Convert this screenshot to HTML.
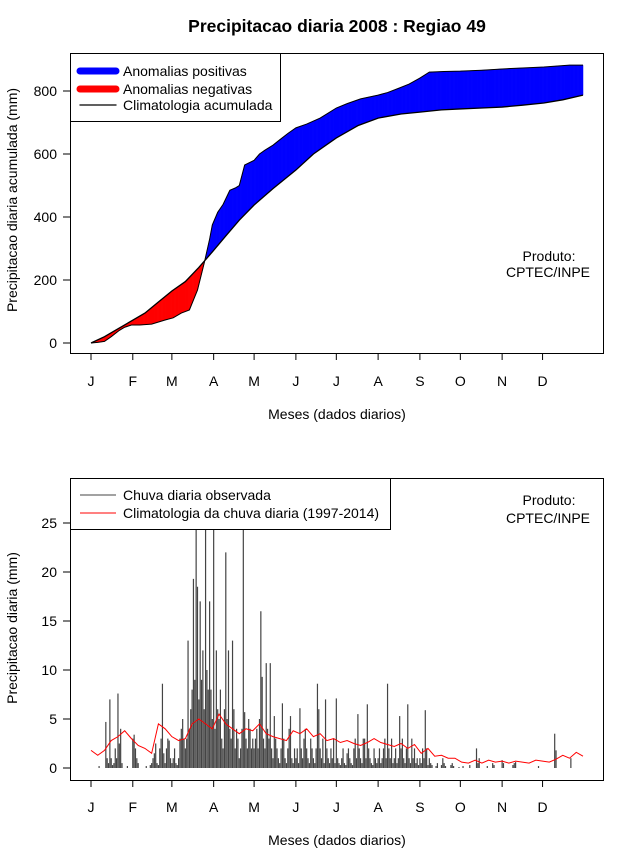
<!DOCTYPE html>
<html><head><meta charset="utf-8"><style>
body{margin:0;background:#fff}
svg{display:block;font-family:"Liberation Sans",sans-serif}
</style></head><body>
<svg id="c" width="640" height="850" xmlns="http://www.w3.org/2000/svg"></svg>
<script>
// ---- data ----
const months = ["J","F","M","A","M","J","J","A","S","O","N","D"];
const monthStartDays = [0,31,60,91,121,152,182,213,244,274,305,335];
const topYTicks = [0,200,400,600,800];
const botYTicks = [0,5,10,15,20,25];
const climCumDays = [0,10,20,30,40,50,60,70,80,90,100,110,121,135,152,165,182,198,213,230,244,260,274,290,305,320,336,350,365];
const climCumVals = [0,20,45,70,95,130,165,195,240,289,340,390,438,490,549,600,651,690,714,727,733,740,743,746,749,755,762,772,787];
const obsCumDays = [0,5,10,15,21,25,30,36,45,55,61,67,73,79,84,88,90,94,98,103,107,110,114,121,125,129,135,140,146,152,160,170,176,182,190,200,213,220,229,236,244,251,262,274,290,305,320,336,355,365];
const obsCumVals = [0,2,5,20,40,50,57,57,60,73,80,95,105,168,254,330,375,415,440,485,492,500,565,580,600,612,628,645,665,683,695,714,730,746,760,775,787,795,810,822,841,860,862,863,866,870,873,876,882,882];
const obsJan = [0,0,0,0,0,0,0.2,0,0,0,0,4.7,1,0.5,7,1,0.3,0.5,2,1,7.6,2.5,4,0.5,0,0,0,0.2,0,0,0];
const obsFeb = [3,3.4,2,1,0.5,0,0,0,0,0,0.2,0,0,0.3,0.5,1,1.5,2.5,0.5,0.3,2,3,8.6,1.5,0.5,2,3,2.8,1];
const obsMar = [0.5,1,2,0.5,0.3,1,3,4,5,3,2,3,13,4,6,8,19.3,9,30,18.5,7,17,9,12,6,30,10,8,17,8,5];
const obsApr = [30,4,12,6,5,8,3,2,6,22,5,12,4,3,13,6,2,4,3,1,2,4,30,5.7,3,2,5,4,2,3];
const obsMay = [2,3,4,2,5,16,9.3,3,2,10.7,4,3,10.7,2,1,5.3,3,2,1,0.5,2,6.6,3,1,0.5,2,4,5.3,1,0.5,2];
const obsJun = [1,2,0.5,6.1,2,1,3,4,2,1,0.5,3,2,1,0.5,2,8.6,6,2,1,3,0.5,7,2,1,0.5,2,1,3,0.5];
const obsJul = [7.1,1,0.5,0.3,1,2,0.5,0.3,1.5,2,1,0.5,0.3,2,3,1,5.5,2,1,0.5,3,3,1,6.5,2,1,0.5,0.3,2,1,0.5];
const obsAug = [1,2,0.5,1,2,3,1,8.6,2,1,3,0.5,1,2,0.5,1,5.3,2,3,1,0.5,2,6.5,1,0.5,3,1,2,0.5,1,0.3];
const obsSep = [1,0.5,2,1,5.9,2,0.3,1,0.5,0.3,0,0,0.2,0.5,0,0,0.3,1,0.5,0.2,0,0,0,0.3,0.5,0.2,0,0,0,0.1];
const obsOct = [0,0,0.2,0,0,0,0,0.3,0,0,0,0,2,0.5,1,0,0,0,0,0,0.2,0,0,0,0.5,0.3,0,0,0,0,0];
const obsNov = [0.8,0.5,0,0,0,0,0,0,0.3,0.5,0.6,0,0,0,0,0,0,0,0,0,0,0,0,0,0,0,0,0.2,0,0];
const obsDec = [0,0,0,0,0,0,0,0,0,3.5,1.8,0,0,0,0,0,0,0,0,0,0,1,0,0,0,0,0,0,0,0,0];
const climDailyDays = [0,5,10,15,20,25,30,35,40,45,50,55,60,65,70,75,80,85,90,95,100,105,110,115,120,125,130,135,140,145,150,155,160,165,170,175,180,185,190,195,200,205,210,215,220,225,230,235,240,245,250,255,260,265,270,275,280,285,290,295,300,305,310,315,320,325,330,335,340,345,350,355,360,365];
const climDailyVals = [1.8,1.3,1.8,2.8,3.2,3.8,3.0,2.3,2.0,1.5,4.5,4.0,3.2,2.8,3.0,4.5,5.0,4.5,4.0,5.5,4.5,4.0,3.5,4.0,3.8,4.5,3.5,3.2,3.0,2.8,3.8,3.5,4.0,3.2,3.5,2.8,3.0,2.6,2.8,2.5,2.3,2.6,3.0,2.6,2.4,2.2,2.5,2.0,2.4,1.5,2.0,1.2,1.3,1.0,1.0,0.6,0.5,0.8,0.5,0.8,0.6,0.7,0.5,0.7,0.6,0.5,0.8,0.7,0.6,0.9,1.3,1.0,1.6,1.2];
const obsDaily = [].concat(obsJan,obsFeb,obsMar,obsApr,obsMay,obsJun,obsJul,obsAug,obsSep,obsOct,obsNov,obsDec);

// ---- drawing ----
const NS="http://www.w3.org/2000/svg";
const svg=document.getElementById('c');
function mk(tag,attrs,parent){const e=document.createElementNS(NS,tag);for(const k in attrs)e.setAttribute(k,attrs[k]);(parent||svg).appendChild(e);return e;}
const xDay=d=>91+d*(583-91)/365;
const yTop=v=>343-v*0.315;
const yBot=v=>768-v*9.8;
function interp(ds,vs,d){for(let i=1;i<ds.length;i++){if(d<=ds[i]){const t=(d-ds[i-1])/(ds[i]-ds[i-1]);return vs[i-1]+t*(vs[i]-vs[i-1]);}}return vs[vs.length-1];}
const FS=14;

let t=mk('text',{x:337,y:32,'text-anchor':'middle','font-size':17.5,'font-weight':'bold'});
t.textContent='Precipitacao diaria 2008 : Regiao 49';



function axes(yTop0,yBot0,yfn,ticks,yLabel,yLabelY,xLabelY,tickLabY,pre){
  for(let i=0;i<months.length;i++){
    const x=xDay(monthStartDays[i]);
    const l=mk('line',{x1:x,x2:x,y1:yBot0,y2:yBot0+7,stroke:'#000'});
    
    
    const tx=mk('text',{x:x,y:tickLabY,'text-anchor':'middle','font-size':FS});
    tx.textContent=months[i];
    
    
  }
  for(const v of ticks){
    const y=yfn(v);
    const l=mk('line',{x1:63,x2:70,y1:y,y2:y,stroke:'#000'});
    
    
    const tx=mk('text',{x:57,y:y+5,'text-anchor':'end','font-size':FS});
    tx.textContent=v;
    
    
  }
  const yl=mk('text',{x:0,y:0,'text-anchor':'middle','font-size':FS,transform:`translate(17,${yLabelY}) rotate(-90)`});
  yl.textContent=yLabel;
  
  
  const xl=mk('text',{x:337,y:xLabelY,'text-anchor':'middle','font-size':FS});
  xl.textContent='Meses (dados diarios)';
  
  
}

// top panel
const g1=mk('g',{});


for(let d=0;d<365;d++){
  const o0=interp(obsCumDays,obsCumVals,d),o1=interp(obsCumDays,obsCumVals,d+1);
  const c0=interp(climCumDays,climCumVals,d),c1=interp(climCumDays,climCumVals,d+1);
  const pos=(o0+o1)>=(c0+c1);
  const p=mk('polygon',{points:`${xDay(d)},${yTop(o0)} ${xDay(d+1)},${yTop(o1)} ${xDay(d+1)},${yTop(c1)} ${xDay(d)},${yTop(c0)}`,fill:pos?'#0000ff':'#ff0000',stroke:pos?'#0000ff':'#ff0000','stroke-width':0.5},g1);
  
  
}
const lineO=mk('polyline',{points:obsCumDays.map((d,i)=>xDay(d)+','+yTop(obsCumVals[i])).join(' '),fill:'none',stroke:'#000','stroke-width':1},g1);


const lineC=mk('polyline',{points:climCumDays.map((d,i)=>xDay(d)+','+yTop(climCumVals[i])).join(' '),fill:'none',stroke:'#000','stroke-width':1.3},g1);


const box1=mk('rect',{x:70.5,y:53.5,width:533,height:300,fill:'none',stroke:'#000'});


axes(53,353,yTop,topYTicks,'Precipitacao diaria acumulada (mm)',200,419,386,'top-');

const lg1=mk('g',{});


mk('rect',{x:70.5,y:53.5,width:210,height:68,fill:'#fff',stroke:'#000'},lg1);
const le=[['#0000ff',7,'Anomalias positivas',71],['#ff0000',7,'Anomalias negativas',89],['#000',1.3,'Climatologia acumulada',105]];
for(const [c,w,txt,y] of le){
  const l=mk('line',{x1:80,x2:116,y1:y,y2:y,stroke:c,'stroke-width':w,'stroke-linecap':'round'},lg1);
  
  
  const tx=mk('text',{x:123,y:y+5,'font-size':FS},lg1);
  tx.textContent=txt;
  
  
}
let p1=mk('text',{x:549,y:261,'text-anchor':'middle','font-size':FS});p1.textContent='Produto:';


let p2=mk('text',{x:548,y:277,'text-anchor':'middle','font-size':FS});p2.textContent='CPTEC/INPE';



// bottom panel
const cp=mk('clipPath',{id:'cb'});
mk('rect',{x:70,y:478,width:533,height:302},cp);
const g2=mk('g',{'clip-path':'url(#cb)'});


for(let d=0;d<obsDaily.length;d++){
  const x=xDay(d);
  const b=mk('line',{x1:x,x2:x,y1:yBot(0),y2:yBot(obsDaily[d]),stroke:'#444','stroke-width':1.2},g2);
  
  
}
const rl=mk('polyline',{points:climDailyDays.map((d,i)=>xDay(d)+','+yBot(climDailyVals[i])).join(' '),fill:'none',stroke:'#ff0000','stroke-width':1},g2);


const box2=mk('rect',{x:70.5,y:478.5,width:533,height:302,fill:'none',stroke:'#000'});


axes(478,780,yBot,botYTicks,'Precipitacao diaria (mm)',628,845,812,'bottom-');

const lg2=mk('g',{});


mk('rect',{x:70.5,y:478.5,width:320,height:51,fill:'#fff',stroke:'#000'},lg2);
const le2=[['#444','Chuva diaria observada',495],['#ff0000','Climatologia da chuva diaria (1997-2014)',513]];
for(const [c,txt,y] of le2){
  const l=mk('line',{x1:80,x2:116,y1:y,y2:y,stroke:c,'stroke-width':1},lg2);
  
  
  const tx=mk('text',{x:123,y:y+5,'font-size':FS},lg2);
  tx.textContent=txt;
  
  
}
let p3=mk('text',{x:549,y:505,'text-anchor':'middle','font-size':FS});p3.textContent='Produto:';


let p4=mk('text',{x:548,y:523,'text-anchor':'middle','font-size':FS});p4.textContent='CPTEC/INPE';


</script>
</body></html>
